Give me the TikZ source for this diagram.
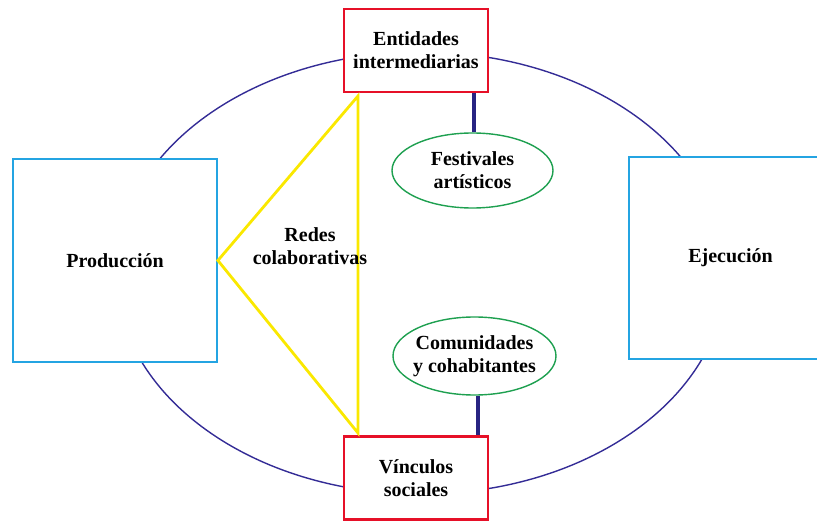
\documentclass[tikz,border=0pt]{standalone}
\usepackage{fontspec}
\setmainfont{Liberation Serif}
\usetikzlibrary{shapes.geometric}
\definecolor{ringblue}{RGB}{52,44,150}
\definecolor{navyline}{RGB}{40,36,130}
\definecolor{boxred}{RGB}{230,16,40}
\definecolor{boxblue}{RGB}{36,164,226}
\definecolor{triyellow}{RGB}{250,232,0}
\definecolor{ovalgreen}{RGB}{30,160,80}
\begin{document}
\begin{tikzpicture}[x=1pt,y=-1pt,
  lbl/.style={font=\fontsize{20}{23}\selectfont\bfseries, align=center},
  redbox/.style={lbl, draw=boxred, line width=2.8pt, fill=white, minimum width=144pt, minimum height=83pt, inner sep=0pt},
  bluebox/.style={lbl, draw=boxblue, line width=1.8pt, fill=white, minimum width=204pt, minimum height=203pt, inner sep=0pt},
  oval/.style={lbl, ellipse, draw=ovalgreen, line width=1.4pt, fill=white, inner sep=0pt},
  link/.style={draw=navyline, line width=4pt}]
\useasboundingbox (0,0) rectangle (817,521);
\clip (0,0) rectangle (817,521);
% big ring
\draw[ringblue, line width=1.4pt] (421,273) ellipse [x radius=305, y radius=221];
% boxes
\node[bluebox] (prod) at (115,260.5) {Producci\'on};
\node[bluebox, minimum width=203pt, minimum height=202pt] (ejec) at (730.5,258) {Ejecuci\'on};
\node[redbox] (ent) at (416,50.5) {Entidades\\intermediarias};
\node[redbox] (vin) at (416,478) {V\'inculos\\sociales};
% ovals
\node[oval, inner xsep=-3pt, minimum width=161pt, minimum height=75pt] (fest) at (472.5,170.5) {Festivales\\art\'isticos};
\node[oval, inner xsep=-6pt, minimum width=163pt, minimum height=78pt] (com) at (474.5,356) {Comunidades\\y cohabitantes};
% links
\draw[link] (fest.north) ++(1.5,0) coordinate (fn) -- (fn |- ent.south);
\draw[link] (com.south) ++(3.5,0) coordinate (cs) -- (cs |- vin.north);
% triangle
\coordinate (tt) at (358,96);
\coordinate (tb) at (358,433);
\draw[triyellow, line width=2.8pt, line join=miter] (prod.east) -- (tt) -- (tb) -- cycle;
\node[lbl] (redes) at (310,246.5) {Redes\\colaborativas};
\end{tikzpicture}
\end{document}
